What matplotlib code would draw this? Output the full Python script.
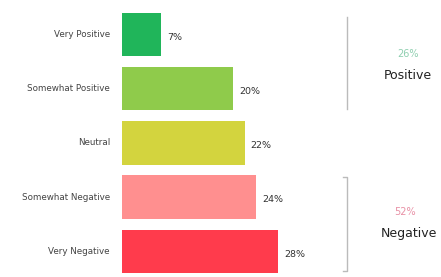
import matplotlib
matplotlib.use("Agg")
import matplotlib.pyplot as plt

plt.rcParams['font.family'] = ['DejaVu Sans']

categories = ['Very Positive', 'Somewhat Positive', 'Neutral', 'Somewhat Negative', 'Very Negative']
values = [7, 20, 22, 24, 28]
colors = ['#20b55a', '#8fcb4b', '#d3d43e', '#ff8f8f', '#ff3b4c']

group_names = ['Positive', 'Negative']
group_totals = ['26%', '52%']
group_colors = ['#8fcfb0', '#e890a5']

px = 5.57  # pixels per percent
fig = plt.figure(figsize=(4.41, 2.77), dpi=100)
ax = fig.add_axes([122 / 441, 0, 319 / 441, 1])
ax.set_xlim(0, 319 / px)
sp = 54.2
ax.set_ylim((277 - 34.5) / sp, -34.5 / sp)
ax.axis('off')

ypos = list(range(len(values)))
ax.barh(ypos, values, height=0.8, color=colors)

for y, v, c in zip(ypos, values, categories):
    ax.text(v + 1.1, y + 0.05, f'{v}%', va='center', ha='left', fontsize=6.8, color='#333333')
    ax.text(-12 / px, y, c, va='center', ha='right', fontsize=6.3, color='#444444', clip_on=False)

# brackets
bx = (346.5 - 122) / px
tick = 4 / px
ax.plot([bx, bx], [-0.32, 1.38], color='#bbbbbb', lw=1, clip_on=False)
ax.plot([bx - tick, bx, bx, bx - tick], [2.63, 2.63, 4.37, 4.37], color='#bbbbbb', lw=1, clip_on=False)

ax.text((408 - 122) / px, 0.36, group_totals[0], ha='center', va='center', fontsize=7, color=group_colors[0])
ax.text((408 - 122) / px, 0.75, group_names[0], ha='center', va='center', fontsize=9, color='#222222')
ax.text((405 - 122) / px, 3.28, group_totals[1], ha='center', va='center', fontsize=7, color=group_colors[1])
ax.text((409 - 122) / px, 3.68, group_names[1], ha='center', va='center', fontsize=9, color='#222222')

fig.savefig('out.png', dpi=100)
